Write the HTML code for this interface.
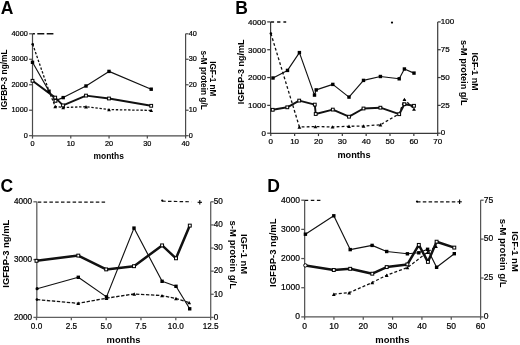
<!DOCTYPE html>
<html><head><meta charset="utf-8"><style>
html,body{margin:0;padding:0;background:#fff;width:520px;height:345px;overflow:hidden;font-family:"Liberation Sans", sans-serif;}
svg{position:absolute;left:0;top:0;filter:blur(0.5px);}
</style></head><body>
<svg width="520" height="345" viewBox="0 0 520 345" style='font-family:"Liberation Sans", sans-serif' fill="#000">
<line x1="32.5" y1="33.8" x2="32.5" y2="136.3" stroke="#4a4a4a" stroke-width="1.2"/>
<line x1="32" y1="135.8" x2="186.1" y2="135.8" stroke="#4a4a4a" stroke-width="1.2"/>
<line x1="185.6" y1="33.8" x2="185.6" y2="136.3" stroke="#4a4a4a" stroke-width="1.2"/>
<line x1="29.1" y1="33.8" x2="32.5" y2="33.8" stroke="#4a4a4a" stroke-width="1.2"/>
<text x="27.8" y="35.84" font-size="7.3" text-anchor="end" font-weight="normal" stroke="#000" stroke-width="0.22">4000</text>
<line x1="29.1" y1="59.27" x2="32.5" y2="59.27" stroke="#4a4a4a" stroke-width="1.2"/>
<text x="27.8" y="61.32" font-size="7.3" text-anchor="end" font-weight="normal" stroke="#000" stroke-width="0.22">3000</text>
<line x1="29.1" y1="84.75" x2="32.5" y2="84.75" stroke="#4a4a4a" stroke-width="1.2"/>
<text x="27.8" y="86.79" font-size="7.3" text-anchor="end" font-weight="normal" stroke="#000" stroke-width="0.22">2000</text>
<line x1="29.1" y1="110.22" x2="32.5" y2="110.22" stroke="#4a4a4a" stroke-width="1.2"/>
<text x="27.8" y="112.27" font-size="7.3" text-anchor="end" font-weight="normal" stroke="#000" stroke-width="0.22">1000</text>
<line x1="29.1" y1="135.7" x2="32.5" y2="135.7" stroke="#4a4a4a" stroke-width="1.2"/>
<text x="27.8" y="137.74" font-size="7.3" text-anchor="end" font-weight="normal" stroke="#000" stroke-width="0.22">0</text>
<line x1="32.5" y1="135.8" x2="32.5" y2="138.6" stroke="#4a4a4a" stroke-width="1.2"/>
<text x="32.5" y="145.5" font-size="7.3" text-anchor="middle" font-weight="normal" stroke="#000" stroke-width="0.22">0</text>
<line x1="70.78" y1="135.8" x2="70.78" y2="138.6" stroke="#4a4a4a" stroke-width="1.2"/>
<text x="70.78" y="145.5" font-size="7.3" text-anchor="middle" font-weight="normal" stroke="#000" stroke-width="0.22">10</text>
<line x1="109.05" y1="135.8" x2="109.05" y2="138.6" stroke="#4a4a4a" stroke-width="1.2"/>
<text x="109.05" y="145.5" font-size="7.3" text-anchor="middle" font-weight="normal" stroke="#000" stroke-width="0.22">20</text>
<line x1="147.32" y1="135.8" x2="147.32" y2="138.6" stroke="#4a4a4a" stroke-width="1.2"/>
<text x="147.32" y="145.5" font-size="7.3" text-anchor="middle" font-weight="normal" stroke="#000" stroke-width="0.22">30</text>
<line x1="185.6" y1="135.8" x2="185.6" y2="138.6" stroke="#4a4a4a" stroke-width="1.2"/>
<text x="185.6" y="145.5" font-size="7.3" text-anchor="middle" font-weight="normal" stroke="#000" stroke-width="0.22">40</text>
<line x1="185.6" y1="33.8" x2="188.6" y2="33.8" stroke="#4a4a4a" stroke-width="1.2"/>
<text x="188.7" y="35.84" font-size="7.3" text-anchor="start" font-weight="normal" stroke="#000" stroke-width="0.22">40</text>
<line x1="185.6" y1="59.27" x2="188.6" y2="59.27" stroke="#4a4a4a" stroke-width="1.2"/>
<text x="188.7" y="61.32" font-size="7.3" text-anchor="start" font-weight="normal" stroke="#000" stroke-width="0.22">30</text>
<line x1="185.6" y1="84.75" x2="188.6" y2="84.75" stroke="#4a4a4a" stroke-width="1.2"/>
<text x="188.7" y="86.79" font-size="7.3" text-anchor="start" font-weight="normal" stroke="#000" stroke-width="0.22">20</text>
<line x1="185.6" y1="110.22" x2="188.6" y2="110.22" stroke="#4a4a4a" stroke-width="1.2"/>
<text x="188.7" y="112.27" font-size="7.3" text-anchor="start" font-weight="normal" stroke="#000" stroke-width="0.22">10</text>
<line x1="185.6" y1="135.7" x2="188.6" y2="135.7" stroke="#4a4a4a" stroke-width="1.2"/>
<text x="188.7" y="137.74" font-size="7.3" text-anchor="start" font-weight="normal" stroke="#000" stroke-width="0.22">0</text>
<text x="7" y="13.5" font-size="17.5" text-anchor="middle" font-weight="bold">A</text>
<text transform="translate(7.4,79.55) rotate(-90)" font-size="8.33" text-anchor="middle" font-weight="bold">IGFBP-3 ng/mL</text>
<text transform="translate(210.3,78.8) rotate(90)" font-size="8.26" text-anchor="middle" font-weight="bold">IGF-1 nM</text>
<text transform="translate(201,80.1) rotate(90)" font-size="8.29" text-anchor="middle" font-weight="bold">s-M protein g/L</text>
<text x="108.75" y="158.5" font-size="8.43" text-anchor="middle" font-weight="bold">months</text>
<polyline points="32.6,33.8 53.4,33.8" fill="none" stroke="#111" stroke-width="1.5" stroke-linejoin="round" stroke-dasharray="7 2.4" stroke-dashoffset="4.7"/>
<polyline points="32.7,44.2 49,91.2 55.2,106.5 63.2,107.5 86,106.7 109,109.6 151.2,110.4" fill="none" stroke="#111" stroke-width="1.3" stroke-linejoin="round" stroke-dasharray="2.4 1.7" stroke-dashoffset="0"/>
<polyline points="32.5,62.3 49,91.2 55.4,100.6 63.2,97.6 86,86 109,71.4 151.2,89.2" fill="none" stroke="#111" stroke-width="1.15" stroke-linejoin="round"/>
<polyline points="32.5,80.8 55.2,97.6 63,105.4 86,95.6 109,98.5 151.2,105.8" fill="none" stroke="#111" stroke-width="1.95" stroke-linejoin="round"/>
<polygon points="53.3,108.21 57.1,108.21 55.2,104.79" fill="#000"/>
<polygon points="61.3,109.21 65.1,109.21 63.2,105.79" fill="#000"/>
<polygon points="84.1,108.41 87.9,108.41 86,104.99" fill="#000"/>
<polygon points="107.1,111.31 110.9,111.31 109,107.89" fill="#000"/>
<polygon points="149.3,112.11 153.1,112.11 151.2,108.69" fill="#000"/>
<circle cx="32.7" cy="44.2" r="1.3" fill="#000"/>
<rect x="30.8" y="60.6" width="3.4" height="3.4" fill="#000"/>
<rect x="47.3" y="89.5" width="3.4" height="3.4" fill="#000"/>
<rect x="53.7" y="98.9" width="3.4" height="3.4" fill="#000"/>
<rect x="61.5" y="95.9" width="3.4" height="3.4" fill="#000"/>
<rect x="84.3" y="84.3" width="3.4" height="3.4" fill="#000"/>
<rect x="107.3" y="69.7" width="3.4" height="3.4" fill="#000"/>
<rect x="149.5" y="87.5" width="3.4" height="3.4" fill="#000"/>
<rect x="31.1" y="79.4" width="2.8" height="2.8" fill="#fff" stroke="#000" stroke-width="1"/>
<rect x="53.8" y="96.2" width="2.8" height="2.8" fill="#fff" stroke="#000" stroke-width="1"/>
<rect x="61.6" y="104" width="2.8" height="2.8" fill="#fff" stroke="#000" stroke-width="1"/>
<rect x="84.6" y="94.2" width="2.8" height="2.8" fill="#fff" stroke="#000" stroke-width="1"/>
<rect x="107.6" y="97.1" width="2.8" height="2.8" fill="#fff" stroke="#000" stroke-width="1"/>
<rect x="149.8" y="104.4" width="2.8" height="2.8" fill="#fff" stroke="#000" stroke-width="1"/>
<rect x="54.1" y="99.4" width="2.8" height="2.8" fill="#fff" stroke="#000" stroke-width="1"/>
<line x1="270.6" y1="21.9" x2="270.6" y2="133.8" stroke="#3a3a3a" stroke-width="1.2"/>
<line x1="270.1" y1="133.3" x2="438.2" y2="133.3" stroke="#3a3a3a" stroke-width="1.2"/>
<line x1="437.7" y1="21.9" x2="437.7" y2="133.8" stroke="#3a3a3a" stroke-width="1.2"/>
<line x1="267.2" y1="21.9" x2="270.6" y2="21.9" stroke="#3a3a3a" stroke-width="1.2"/>
<text x="265.9" y="24.84" font-size="8" text-anchor="end" font-weight="normal" stroke="#000" stroke-width="0.22">4000</text>
<line x1="267.2" y1="49.72" x2="270.6" y2="49.72" stroke="#3a3a3a" stroke-width="1.2"/>
<text x="265.9" y="52.66" font-size="8" text-anchor="end" font-weight="normal" stroke="#000" stroke-width="0.22">3000</text>
<line x1="267.2" y1="77.55" x2="270.6" y2="77.55" stroke="#3a3a3a" stroke-width="1.2"/>
<text x="265.9" y="80.49" font-size="8" text-anchor="end" font-weight="normal" stroke="#000" stroke-width="0.22">2000</text>
<line x1="267.2" y1="105.37" x2="270.6" y2="105.37" stroke="#3a3a3a" stroke-width="1.2"/>
<text x="265.9" y="108.31" font-size="8" text-anchor="end" font-weight="normal" stroke="#000" stroke-width="0.22">1000</text>
<line x1="267.2" y1="133.2" x2="270.6" y2="133.2" stroke="#3a3a3a" stroke-width="1.2"/>
<text x="265.9" y="136.14" font-size="8" text-anchor="end" font-weight="normal" stroke="#000" stroke-width="0.22">0</text>
<line x1="270.8" y1="133.3" x2="270.8" y2="136.1" stroke="#3a3a3a" stroke-width="1.2"/>
<text x="270.8" y="144.1" font-size="8" text-anchor="middle" font-weight="normal" stroke="#000" stroke-width="0.22">0</text>
<line x1="294.64" y1="133.3" x2="294.64" y2="136.1" stroke="#3a3a3a" stroke-width="1.2"/>
<text x="294.64" y="144.1" font-size="8" text-anchor="middle" font-weight="normal" stroke="#000" stroke-width="0.22">10</text>
<line x1="318.48" y1="133.3" x2="318.48" y2="136.1" stroke="#3a3a3a" stroke-width="1.2"/>
<text x="318.48" y="144.1" font-size="8" text-anchor="middle" font-weight="normal" stroke="#000" stroke-width="0.22">20</text>
<line x1="342.32" y1="133.3" x2="342.32" y2="136.1" stroke="#3a3a3a" stroke-width="1.2"/>
<text x="342.32" y="144.1" font-size="8" text-anchor="middle" font-weight="normal" stroke="#000" stroke-width="0.22">30</text>
<line x1="366.16" y1="133.3" x2="366.16" y2="136.1" stroke="#3a3a3a" stroke-width="1.2"/>
<text x="366.16" y="144.1" font-size="8" text-anchor="middle" font-weight="normal" stroke="#000" stroke-width="0.22">40</text>
<line x1="390" y1="133.3" x2="390" y2="136.1" stroke="#3a3a3a" stroke-width="1.2"/>
<text x="390" y="144.1" font-size="8" text-anchor="middle" font-weight="normal" stroke="#000" stroke-width="0.22">50</text>
<line x1="413.84" y1="133.3" x2="413.84" y2="136.1" stroke="#3a3a3a" stroke-width="1.2"/>
<text x="413.84" y="144.1" font-size="8" text-anchor="middle" font-weight="normal" stroke="#000" stroke-width="0.22">60</text>
<line x1="437.68" y1="133.3" x2="437.68" y2="136.1" stroke="#3a3a3a" stroke-width="1.2"/>
<text x="437.68" y="144.1" font-size="8" text-anchor="middle" font-weight="normal" stroke="#000" stroke-width="0.22">70</text>
<line x1="437.7" y1="21.9" x2="440.7" y2="21.9" stroke="#3a3a3a" stroke-width="1.2"/>
<text x="440.8" y="24.14" font-size="8" text-anchor="start" font-weight="normal" stroke="#000" stroke-width="0.22">100</text>
<line x1="437.7" y1="49.72" x2="440.7" y2="49.72" stroke="#3a3a3a" stroke-width="1.2"/>
<text x="440.8" y="51.96" font-size="8" text-anchor="start" font-weight="normal" stroke="#000" stroke-width="0.22">75</text>
<line x1="437.7" y1="77.55" x2="440.7" y2="77.55" stroke="#3a3a3a" stroke-width="1.2"/>
<text x="440.8" y="79.79" font-size="8" text-anchor="start" font-weight="normal" stroke="#000" stroke-width="0.22">50</text>
<line x1="437.7" y1="105.37" x2="440.7" y2="105.37" stroke="#3a3a3a" stroke-width="1.2"/>
<text x="440.8" y="107.61" font-size="8" text-anchor="start" font-weight="normal" stroke="#000" stroke-width="0.22">25</text>
<line x1="437.7" y1="133.2" x2="440.7" y2="133.2" stroke="#3a3a3a" stroke-width="1.2"/>
<text x="440.8" y="135.44" font-size="8" text-anchor="start" font-weight="normal" stroke="#000" stroke-width="0.22">0</text>
<text x="241.5" y="13.6" font-size="17.5" text-anchor="middle" font-weight="bold">B</text>
<text transform="translate(243.9,71.9) rotate(-90)" font-size="8.96" text-anchor="middle" font-weight="bold">IGFBP-3 ng/mL</text>
<text transform="translate(471.6,71.55) rotate(90)" font-size="8.91" text-anchor="middle" font-weight="bold">IGF-1 nM</text>
<text transform="translate(460.8,72.7) rotate(90)" font-size="9.17" text-anchor="middle" font-weight="bold">s-M protein g/L</text>
<text x="354" y="158.4" font-size="9.2" text-anchor="middle" font-weight="bold">months</text>
<polyline points="270.8,21.9 286.2,21.9" fill="none" stroke="#111" stroke-width="1.5" stroke-linejoin="round" stroke-dasharray="3.3 3" stroke-dashoffset="0"/>
<circle cx="392" cy="22.6" r="1.1" fill="#000"/>
<polyline points="270.9,33.5 299.4,127 315.4,126.6 332.5,126.9 349,126.3 363.5,126 380.4,124.8 399.2,113.8 404.4,99.4 414,109" fill="none" stroke="#111" stroke-width="1.3" stroke-linejoin="round" stroke-dasharray="2.8 2.2" stroke-dashoffset="0"/>
<polyline points="273,78 287.5,70.4 299.4,52.6 314.5,95.1 316.2,89.9 332.8,84.4 349,97.1 363.5,80.4 380.4,76.5 399.2,78.8 404.4,69 414,73.1" fill="none" stroke="#111" stroke-width="1.15" stroke-linejoin="round"/>
<polyline points="272.7,109.8 287.3,107.3 299.2,100.6 314.8,104.6 315.7,114 332.8,109.6 349,116.7 363.5,108.5 380.4,107.7 399.2,114.2 404.4,104.2 414,105.8" fill="none" stroke="#111" stroke-width="1.95" stroke-linejoin="round"/>
<circle cx="270.9" cy="33.5" r="1.3" fill="#000"/>
<polygon points="297.5,128.71 301.3,128.71 299.4,125.29" fill="#000"/>
<polygon points="313.5,128.31 317.3,128.31 315.4,124.89" fill="#000"/>
<polygon points="330.6,128.61 334.4,128.61 332.5,125.19" fill="#000"/>
<polygon points="347.1,128.01 350.9,128.01 349,124.59" fill="#000"/>
<polygon points="361.6,127.71 365.4,127.71 363.5,124.29" fill="#000"/>
<polygon points="378.5,126.51 382.3,126.51 380.4,123.09" fill="#000"/>
<polygon points="397.3,115.51 401.1,115.51 399.2,112.09" fill="#000"/>
<polygon points="402.5,101.11 406.3,101.11 404.4,97.69" fill="#000"/>
<polygon points="412.1,110.71 415.9,110.71 414,107.29" fill="#000"/>
<rect x="271.3" y="76.3" width="3.4" height="3.4" fill="#000"/>
<rect x="285.8" y="68.7" width="3.4" height="3.4" fill="#000"/>
<rect x="297.7" y="50.9" width="3.4" height="3.4" fill="#000"/>
<rect x="312.8" y="93.4" width="3.4" height="3.4" fill="#000"/>
<rect x="314.5" y="88.2" width="3.4" height="3.4" fill="#000"/>
<rect x="331.1" y="82.7" width="3.4" height="3.4" fill="#000"/>
<rect x="347.3" y="95.4" width="3.4" height="3.4" fill="#000"/>
<rect x="361.8" y="78.7" width="3.4" height="3.4" fill="#000"/>
<rect x="378.7" y="74.8" width="3.4" height="3.4" fill="#000"/>
<rect x="397.5" y="77.1" width="3.4" height="3.4" fill="#000"/>
<rect x="402.7" y="67.3" width="3.4" height="3.4" fill="#000"/>
<rect x="412.3" y="71.4" width="3.4" height="3.4" fill="#000"/>
<rect x="271.3" y="108.4" width="2.8" height="2.8" fill="#fff" stroke="#000" stroke-width="1"/>
<rect x="285.9" y="105.9" width="2.8" height="2.8" fill="#fff" stroke="#000" stroke-width="1"/>
<rect x="297.8" y="99.2" width="2.8" height="2.8" fill="#fff" stroke="#000" stroke-width="1"/>
<rect x="313.4" y="103.2" width="2.8" height="2.8" fill="#fff" stroke="#000" stroke-width="1"/>
<rect x="314.3" y="112.6" width="2.8" height="2.8" fill="#fff" stroke="#000" stroke-width="1"/>
<rect x="331.4" y="108.2" width="2.8" height="2.8" fill="#fff" stroke="#000" stroke-width="1"/>
<rect x="347.6" y="115.3" width="2.8" height="2.8" fill="#fff" stroke="#000" stroke-width="1"/>
<rect x="362.1" y="107.1" width="2.8" height="2.8" fill="#fff" stroke="#000" stroke-width="1"/>
<rect x="379" y="106.3" width="2.8" height="2.8" fill="#fff" stroke="#000" stroke-width="1"/>
<rect x="397.8" y="112.8" width="2.8" height="2.8" fill="#fff" stroke="#000" stroke-width="1"/>
<rect x="403" y="102.8" width="2.8" height="2.8" fill="#fff" stroke="#000" stroke-width="1"/>
<rect x="412.6" y="104.4" width="2.8" height="2.8" fill="#fff" stroke="#000" stroke-width="1"/>
<line x1="36.8" y1="201.8" x2="36.8" y2="317.9" stroke="#606060" stroke-width="1.3"/>
<line x1="36.3" y1="317.4" x2="211.2" y2="317.4" stroke="#606060" stroke-width="1.3"/>
<line x1="210.7" y1="201.8" x2="210.7" y2="317.9" stroke="#606060" stroke-width="1.3"/>
<line x1="33.4" y1="201.8" x2="36.8" y2="201.8" stroke="#606060" stroke-width="1.3"/>
<text x="32.1" y="204.1" font-size="8.2" text-anchor="end" font-weight="normal" stroke="#000" stroke-width="0.22">4000</text>
<line x1="33.4" y1="259.6" x2="36.8" y2="259.6" stroke="#606060" stroke-width="1.3"/>
<text x="32.1" y="261.9" font-size="8.2" text-anchor="end" font-weight="normal" stroke="#000" stroke-width="0.22">3000</text>
<line x1="33.4" y1="317.4" x2="36.8" y2="317.4" stroke="#606060" stroke-width="1.3"/>
<text x="32.1" y="319.7" font-size="8.2" text-anchor="end" font-weight="normal" stroke="#000" stroke-width="0.22">2000</text>
<line x1="36.5" y1="317.4" x2="36.5" y2="320.2" stroke="#606060" stroke-width="1.3"/>
<text x="36.5" y="328.7" font-size="8.2" text-anchor="middle" font-weight="normal" stroke="#000" stroke-width="0.22">0.0</text>
<line x1="71.33" y1="317.4" x2="71.33" y2="320.2" stroke="#606060" stroke-width="1.3"/>
<text x="71.33" y="328.7" font-size="8.2" text-anchor="middle" font-weight="normal" stroke="#000" stroke-width="0.22">2.5</text>
<line x1="106.15" y1="317.4" x2="106.15" y2="320.2" stroke="#606060" stroke-width="1.3"/>
<text x="106.15" y="328.7" font-size="8.2" text-anchor="middle" font-weight="normal" stroke="#000" stroke-width="0.22">5.0</text>
<line x1="140.97" y1="317.4" x2="140.97" y2="320.2" stroke="#606060" stroke-width="1.3"/>
<text x="140.97" y="328.7" font-size="8.2" text-anchor="middle" font-weight="normal" stroke="#000" stroke-width="0.22">7.5</text>
<line x1="175.8" y1="317.4" x2="175.8" y2="320.2" stroke="#606060" stroke-width="1.3"/>
<text x="175.8" y="328.7" font-size="8.2" text-anchor="middle" font-weight="normal" stroke="#000" stroke-width="0.22">10.0</text>
<line x1="210.62" y1="317.4" x2="210.62" y2="320.2" stroke="#606060" stroke-width="1.3"/>
<text x="210.62" y="328.7" font-size="8.2" text-anchor="middle" font-weight="normal" stroke="#000" stroke-width="0.22">12.5</text>
<line x1="210.7" y1="201.8" x2="213.7" y2="201.8" stroke="#606060" stroke-width="1.3"/>
<text x="213.8" y="204.1" font-size="8.2" text-anchor="start" font-weight="normal" stroke="#000" stroke-width="0.22">50</text>
<line x1="210.7" y1="224.92" x2="213.7" y2="224.92" stroke="#606060" stroke-width="1.3"/>
<text x="213.8" y="227.22" font-size="8.2" text-anchor="start" font-weight="normal" stroke="#000" stroke-width="0.22">40</text>
<line x1="210.7" y1="248.04" x2="213.7" y2="248.04" stroke="#606060" stroke-width="1.3"/>
<text x="213.8" y="250.34" font-size="8.2" text-anchor="start" font-weight="normal" stroke="#000" stroke-width="0.22">30</text>
<line x1="210.7" y1="271.16" x2="213.7" y2="271.16" stroke="#606060" stroke-width="1.3"/>
<text x="213.8" y="273.46" font-size="8.2" text-anchor="start" font-weight="normal" stroke="#000" stroke-width="0.22">20</text>
<line x1="210.7" y1="294.28" x2="213.7" y2="294.28" stroke="#606060" stroke-width="1.3"/>
<text x="213.8" y="296.58" font-size="8.2" text-anchor="start" font-weight="normal" stroke="#000" stroke-width="0.22">10</text>
<line x1="210.7" y1="317.4" x2="213.7" y2="317.4" stroke="#606060" stroke-width="1.3"/>
<text x="213.8" y="319.7" font-size="8.2" text-anchor="start" font-weight="normal" stroke="#000" stroke-width="0.22">0</text>
<text x="6.7" y="191.8" font-size="17.5" text-anchor="middle" font-weight="bold">C</text>
<text transform="translate(8.7,253.7) rotate(-90)" font-size="9.41" text-anchor="middle" font-weight="bold">IGFBP-3 ng/mL</text>
<text transform="translate(241.3,254) rotate(90)" font-size="9.42" text-anchor="middle" font-weight="bold">IGF-1 nM</text>
<text transform="translate(229.9,254.75) rotate(90)" font-size="9.55" text-anchor="middle" font-weight="bold">s-M protein g/L</text>
<text x="123.5" y="343.2" font-size="9.37" text-anchor="middle" font-weight="bold">months</text>
<polyline points="36.6,202.2 107,202.2" fill="none" stroke="#111" stroke-width="1.2" stroke-linejoin="round" stroke-dasharray="3.5 2.3" stroke-dashoffset="-1.2"/>
<polyline points="162.2,201.2 191.3,201.8" fill="none" stroke="#111" stroke-width="1.2" stroke-linejoin="round" stroke-dasharray="3.5 2.3" stroke-dashoffset="0"/>
<circle cx="162.2" cy="200.6" r="1.1" fill="#000"/>
<line x1="197.6" y1="202.3" x2="202" y2="202.3" stroke="#000" stroke-width="1.1"/>
<line x1="199.8" y1="200.1" x2="199.8" y2="204.5" stroke="#000" stroke-width="1.1"/>
<polyline points="36.9,299.6 78.2,303.3 106.5,298.2 134.2,294 162,295.6 176,298.5 189.2,302.6" fill="none" stroke="#111" stroke-width="1.3" stroke-linejoin="round" stroke-dasharray="3.4 1.6" stroke-dashoffset="0"/>
<polyline points="37.1,288.7 78.3,277.3 106.5,296.9 134,228.1 162.1,281.3 176,286.3 189.7,308.8" fill="none" stroke="#111" stroke-width="1.15" stroke-linejoin="round"/>
<polyline points="36.5,260.8 78.3,255.6 106.2,269.4 134,266.2 162.1,245.4 176,258.3 189.8,225.6" fill="none" stroke="#111" stroke-width="2.5" stroke-linejoin="round"/>
<circle cx="36.9" cy="299.6" r="1.3" fill="#000"/>
<circle cx="37.1" cy="288.7" r="1.6" fill="#000"/>
<polygon points="76.3,305.01 80.1,305.01 78.2,301.59" fill="#000"/>
<polygon points="104.6,299.91 108.4,299.91 106.5,296.49" fill="#000"/>
<polygon points="132.3,295.71 136.1,295.71 134.2,292.29" fill="#000"/>
<polygon points="160.1,297.31 163.9,297.31 162,293.89" fill="#000"/>
<polygon points="174.1,300.21 177.9,300.21 176,296.79" fill="#000"/>
<polygon points="187.3,304.31 191.1,304.31 189.2,300.89" fill="#000"/>
<rect x="76.6" y="275.6" width="3.4" height="3.4" fill="#000"/>
<rect x="104.8" y="295.2" width="3.4" height="3.4" fill="#000"/>
<rect x="132.3" y="226.4" width="3.4" height="3.4" fill="#000"/>
<rect x="160.4" y="279.6" width="3.4" height="3.4" fill="#000"/>
<rect x="174.3" y="284.6" width="3.4" height="3.4" fill="#000"/>
<rect x="188" y="307.1" width="3.4" height="3.4" fill="#000"/>
<rect x="35.05" y="259.35" width="2.9" height="2.9" fill="#fff" stroke="#000" stroke-width="1"/>
<rect x="76.85" y="254.15" width="2.9" height="2.9" fill="#fff" stroke="#000" stroke-width="1"/>
<rect x="104.75" y="267.95" width="2.9" height="2.9" fill="#fff" stroke="#000" stroke-width="1"/>
<rect x="132.55" y="264.75" width="2.9" height="2.9" fill="#fff" stroke="#000" stroke-width="1"/>
<rect x="160.65" y="243.95" width="2.9" height="2.9" fill="#fff" stroke="#000" stroke-width="1"/>
<rect x="174.55" y="256.85" width="2.9" height="2.9" fill="#fff" stroke="#000" stroke-width="1"/>
<rect x="188.35" y="224.15" width="2.9" height="2.9" fill="#fff" stroke="#000" stroke-width="1"/>
<line x1="304.65" y1="200.2" x2="304.65" y2="317.4" stroke="#555" stroke-width="1.25"/>
<line x1="304.15" y1="316.9" x2="481.1" y2="316.9" stroke="#555" stroke-width="1.25"/>
<line x1="480.6" y1="200.2" x2="480.6" y2="317.4" stroke="#555" stroke-width="1.25"/>
<line x1="301.25" y1="200.2" x2="304.65" y2="200.2" stroke="#555" stroke-width="1.25"/>
<text x="299.95" y="202.58" font-size="8.5" text-anchor="end" font-weight="normal" stroke="#000" stroke-width="0.22">4000</text>
<line x1="301.25" y1="229.37" x2="304.65" y2="229.37" stroke="#555" stroke-width="1.25"/>
<text x="299.95" y="231.75" font-size="8.5" text-anchor="end" font-weight="normal" stroke="#000" stroke-width="0.22">3000</text>
<line x1="301.25" y1="258.55" x2="304.65" y2="258.55" stroke="#555" stroke-width="1.25"/>
<text x="299.95" y="260.93" font-size="8.5" text-anchor="end" font-weight="normal" stroke="#000" stroke-width="0.22">2000</text>
<line x1="301.25" y1="287.72" x2="304.65" y2="287.72" stroke="#555" stroke-width="1.25"/>
<text x="299.95" y="290.1" font-size="8.5" text-anchor="end" font-weight="normal" stroke="#000" stroke-width="0.22">1000</text>
<line x1="301.25" y1="316.9" x2="304.65" y2="316.9" stroke="#555" stroke-width="1.25"/>
<text x="299.95" y="319.28" font-size="8.5" text-anchor="end" font-weight="normal" stroke="#000" stroke-width="0.22">0</text>
<line x1="304.6" y1="316.9" x2="304.6" y2="319.7" stroke="#555" stroke-width="1.25"/>
<text x="304.6" y="329" font-size="8.5" text-anchor="middle" font-weight="normal" stroke="#000" stroke-width="0.22">0</text>
<line x1="333.93" y1="316.9" x2="333.93" y2="319.7" stroke="#555" stroke-width="1.25"/>
<text x="333.93" y="329" font-size="8.5" text-anchor="middle" font-weight="normal" stroke="#000" stroke-width="0.22">10</text>
<line x1="363.26" y1="316.9" x2="363.26" y2="319.7" stroke="#555" stroke-width="1.25"/>
<text x="363.26" y="329" font-size="8.5" text-anchor="middle" font-weight="normal" stroke="#000" stroke-width="0.22">20</text>
<line x1="392.59" y1="316.9" x2="392.59" y2="319.7" stroke="#555" stroke-width="1.25"/>
<text x="392.59" y="329" font-size="8.5" text-anchor="middle" font-weight="normal" stroke="#000" stroke-width="0.22">30</text>
<line x1="421.92" y1="316.9" x2="421.92" y2="319.7" stroke="#555" stroke-width="1.25"/>
<text x="421.92" y="329" font-size="8.5" text-anchor="middle" font-weight="normal" stroke="#000" stroke-width="0.22">40</text>
<line x1="451.25" y1="316.9" x2="451.25" y2="319.7" stroke="#555" stroke-width="1.25"/>
<text x="451.25" y="329" font-size="8.5" text-anchor="middle" font-weight="normal" stroke="#000" stroke-width="0.22">50</text>
<line x1="480.58" y1="316.9" x2="480.58" y2="319.7" stroke="#555" stroke-width="1.25"/>
<text x="480.58" y="329" font-size="8.5" text-anchor="middle" font-weight="normal" stroke="#000" stroke-width="0.22">60</text>
<line x1="480.6" y1="200.2" x2="483.6" y2="200.2" stroke="#555" stroke-width="1.25"/>
<text x="483.7" y="202.58" font-size="8.5" text-anchor="start" font-weight="normal" stroke="#000" stroke-width="0.22">75</text>
<line x1="480.6" y1="239.1" x2="483.6" y2="239.1" stroke="#555" stroke-width="1.25"/>
<text x="483.7" y="241.48" font-size="8.5" text-anchor="start" font-weight="normal" stroke="#000" stroke-width="0.22">50</text>
<line x1="480.6" y1="278" x2="483.6" y2="278" stroke="#555" stroke-width="1.25"/>
<text x="483.7" y="280.38" font-size="8.5" text-anchor="start" font-weight="normal" stroke="#000" stroke-width="0.22">25</text>
<line x1="480.6" y1="316.9" x2="483.6" y2="316.9" stroke="#555" stroke-width="1.25"/>
<text x="483.7" y="319.28" font-size="8.5" text-anchor="start" font-weight="normal" stroke="#000" stroke-width="0.22">0</text>
<text x="273.5" y="191.6" font-size="17.5" text-anchor="middle" font-weight="bold">D</text>
<text transform="translate(276.2,252.7) rotate(-90)" font-size="9.47" text-anchor="middle" font-weight="bold">IGFBP-3 ng/mL</text>
<text transform="translate(511.5,251.5) rotate(90)" font-size="9.52" text-anchor="middle" font-weight="bold">IGF-1 nM</text>
<text transform="translate(500.1,253.2) rotate(90)" font-size="9.65" text-anchor="middle" font-weight="bold">s-M protein g/L</text>
<text x="392.35" y="343.2" font-size="9.46" text-anchor="middle" font-weight="bold">months</text>
<polyline points="304.7,200.4 321.3,200.4" fill="none" stroke="#111" stroke-width="1.3" stroke-linejoin="round" stroke-dasharray="3.5 2.6" stroke-dashoffset="0"/>
<polyline points="417,201.9 456.5,201.9" fill="none" stroke="#111" stroke-width="1.2" stroke-linejoin="round" stroke-dasharray="3.5 2.3" stroke-dashoffset="0"/>
<circle cx="417" cy="201.6" r="1.1" fill="#000"/>
<line x1="457.4" y1="201.8" x2="461.8" y2="201.8" stroke="#000" stroke-width="1.1"/>
<line x1="459.6" y1="199.6" x2="459.6" y2="204" stroke="#000" stroke-width="1.1"/>
<polyline points="333.8,294.2 349.2,292.7 372.3,282.5 386.7,275.2 407.4,267.6 427.6,252.2 436,246.4" fill="none" stroke="#111" stroke-width="1.25" stroke-linejoin="round" stroke-dasharray="3 2" stroke-dashoffset="0"/>
<polyline points="305.4,234.2 333.8,215.8 350.2,249.6 372.1,245.4 386.7,251.5 407.4,253.8 418.8,252.8 427.6,249.3 436.6,267.3 454.3,253.7" fill="none" stroke="#111" stroke-width="1.15" stroke-linejoin="round"/>
<polyline points="305.4,265.4 333.8,270 350.2,268.8 372.3,273.7 386.7,267.1 407.4,264.4 418.8,244.9 427.9,261.9 436.6,241.7 454.3,247.6" fill="none" stroke="#111" stroke-width="2.5" stroke-linejoin="round"/>
<polygon points="331.9,295.91 335.7,295.91 333.8,292.49" fill="#000"/>
<polygon points="347.3,294.41 351.1,294.41 349.2,290.99" fill="#000"/>
<polygon points="370.4,284.21 374.2,284.21 372.3,280.79" fill="#000"/>
<polygon points="384.8,276.91 388.6,276.91 386.7,273.49" fill="#000"/>
<polygon points="405.5,269.31 409.3,269.31 407.4,265.89" fill="#000"/>
<polygon points="425.7,253.91 429.5,253.91 427.6,250.49" fill="#000"/>
<polygon points="434.1,248.11 437.9,248.11 436,244.69" fill="#000"/>
<rect x="303.7" y="232.5" width="3.4" height="3.4" fill="#000"/>
<rect x="332.1" y="214.1" width="3.4" height="3.4" fill="#000"/>
<rect x="348.5" y="247.9" width="3.4" height="3.4" fill="#000"/>
<rect x="370.4" y="243.7" width="3.4" height="3.4" fill="#000"/>
<rect x="385" y="249.8" width="3.4" height="3.4" fill="#000"/>
<rect x="405.7" y="252.1" width="3.4" height="3.4" fill="#000"/>
<rect x="417.1" y="251.1" width="3.4" height="3.4" fill="#000"/>
<rect x="425.9" y="247.6" width="3.4" height="3.4" fill="#000"/>
<rect x="434.9" y="265.6" width="3.4" height="3.4" fill="#000"/>
<rect x="452.6" y="252" width="3.4" height="3.4" fill="#000"/>
<rect x="332.35" y="268.55" width="2.9" height="2.9" fill="#fff" stroke="#000" stroke-width="1"/>
<rect x="348.75" y="267.35" width="2.9" height="2.9" fill="#fff" stroke="#000" stroke-width="1"/>
<rect x="370.85" y="272.25" width="2.9" height="2.9" fill="#fff" stroke="#000" stroke-width="1"/>
<rect x="385.25" y="265.65" width="2.9" height="2.9" fill="#fff" stroke="#000" stroke-width="1"/>
<rect x="405.95" y="262.95" width="2.9" height="2.9" fill="#fff" stroke="#000" stroke-width="1"/>
<rect x="417.35" y="243.45" width="2.9" height="2.9" fill="#fff" stroke="#000" stroke-width="1"/>
<rect x="426.45" y="260.45" width="2.9" height="2.9" fill="#fff" stroke="#000" stroke-width="1"/>
<rect x="435.15" y="240.25" width="2.9" height="2.9" fill="#fff" stroke="#000" stroke-width="1"/>
<rect x="452.85" y="246.15" width="2.9" height="2.9" fill="#fff" stroke="#000" stroke-width="1"/>
<circle cx="305.4" cy="265.4" r="1.7" fill="#fff" stroke="#000" stroke-width="1"/>
</svg>
</body></html>
